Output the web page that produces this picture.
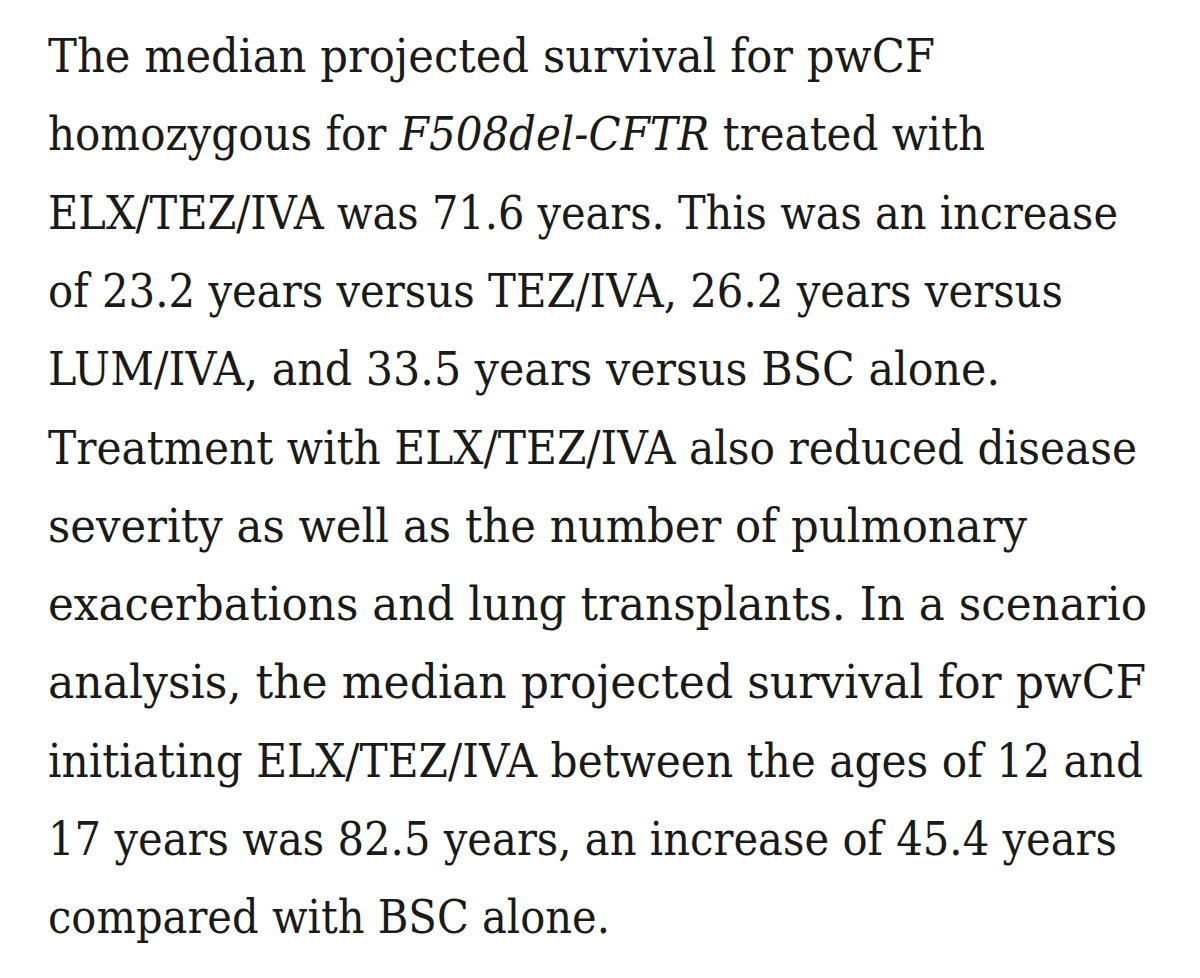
<!DOCTYPE html>
<html><head><meta charset="utf-8">
<script src="https://cdn.jsdelivr.net/npm/chart.js@4"></script>
<style>html,body{margin:0;background:#fff;width:1200px;height:978px;overflow:hidden}</style>
</head><body>
<svg id="s" width="1200" height="978" xmlns="http://www.w3.org/2000/svg"></svg>
<script>
const lines = [
  ["The median projected survival for pwCF"],
  ["homozygous for ", ["F508del-CFTR"], " treated with"],
  ["ELX/TEZ/IVA was 71.6 years. This was an increase"],
  ["of 23.2 years versus TEZ/IVA, 26.2 years versus"],
  ["LUM/IVA, and 33.5 years versus BSC alone."],
  ["Treatment with ELX/TEZ/IVA also reduced disease"],
  ["severity as well as the number of pulmonary"],
  ["exacerbations and lung transplants. In a scenario"],
  ["analysis, the median projected survival for pwCF"],
  ["initiating ELX/TEZ/IVA between the ages of 12 and"],
  ["17 years was 82.5 years, an increase of 45.4 years"],
  ["compared with BSC alone."]
];
const lineRight = [935,985,1118,1063,1000,1137,1027,1147,1146,1143,1117,610];
const NS="http://www.w3.org/2000/svg", svg=document.getElementById('s');
lines.forEach((parts,i)=>{
  const t=document.createElementNS(NS,'text');
  t.setAttribute('x',48); t.setAttribute('y',72+78.3*i);
  t.setAttribute('font-family','DejaVu Serif'); t.setAttribute('font-size','47');
  t.setAttribute('fill','#1a1a1a');
  t.setAttribute('textLength',lineRight[i]-48); t.setAttribute('lengthAdjust','spacingAndGlyphs');
  parts.forEach(p=>{
    const ts=document.createElementNS(NS,'tspan');
    if(Array.isArray(p)){ts.textContent=p[0];ts.setAttribute('font-style','italic');}
    else ts.textContent=p;
    t.appendChild(ts);
  });
  svg.appendChild(t);
});
</script>
</body></html>
